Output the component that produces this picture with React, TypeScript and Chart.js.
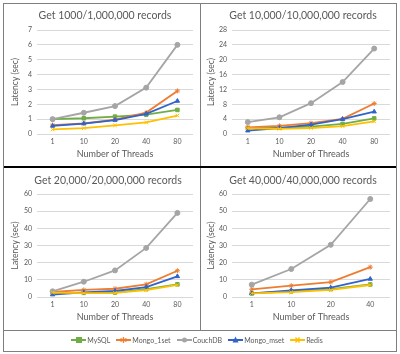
import React, { useEffect, useRef } from "react";
import { Chart, registerables } from "chart.js";
Chart.register(...registerables);

const seriesNames = ["MySQL", "Mongo_1set", "CouchDB", "Mongo_mset", "Redis"];
const seriesColors = ["#70AD47", "#ED7D31", "#A5A5A5", "#3163C8", "#FFC000"];
const seriesMarkers = ["rect", "star", "circle", "triangle", "crossRot"];

const threads5 = ["1", "10", "20", "40", "80"];
const threads4 = ["1", "10", "20", "40"];

// Get 1000/1,000,000
const p1MySQL = [1.0, 1.06, 1.17, 1.3, 1.62];
const p1Mongo1 = [0.6, 0.72, 0.96, 1.44, 2.9];
const p1Couch = [1.0, 1.43, 1.88, 3.12, 6.0];
const p1MongoM = [0.54, 0.7, 0.94, 1.36, 2.22];
const p1Redis = [0.31, 0.39, 0.58, 0.78, 1.24];

// Get 10,000/10,000,000
const p2MySQL = [1.6, 1.7, 2.0, 2.7, 4.2];
const p2Mongo1 = [1.8, 2.2, 2.9, 4.1, 8.2];
const p2Couch = [3.2, 4.5, 8.3, 14.0, 23.0];
const p2MongoM = [0.9, 1.6, 2.5, 4.0, 6.0];
const p2Redis = [1.5, 1.4, 1.6, 2.1, 3.4];

// Get 20,000/20,000,000
const p3MySQL = [2.5, 2.4, 2.6, 4.6, 7.4];
const p3Mongo1 = [2.9, 4.1, 4.8, 7.4, 15.3];
const p3Couch = [3.3, 8.9, 15.5, 28.6, 49.0];
const p3MongoM = [1.4, 2.7, 3.5, 5.8, 12.0];
const p3Redis = [2.5, 2.3, 2.4, 4.0, 7.0];

// Get 40,000/40,000,000
const p4MySQL = [2.1, 3.3, 4.6, 7.3];
const p4Mongo1 = [4.5, 6.6, 8.7, 17.4];
const p4Couch = [7.2, 16.3, 30.4, 57.1];
const p4MongoM = [2.1, 3.9, 5.4, 10.5];
const p4Redis = [2.1, 2.8, 4.1, 7.0];

const yMax1 = 7, yStep1 = 1;
const yMax2 = 28, yStep2 = 4;
const yMax3 = 60, yStep3 = 10;
const yMax4 = 60, yStep4 = 10;

const xAxisTitle = "Number of Threads";
const yAxisTitle = "Latency (sec)";

const TEXT = "#595959";
const FONT = "Lato, 'Open Sans', sans-serif";

type Box = { x: number; y: number; w: number; h: number };
type PanelProps = {
  title: string;
  labels: string[];
  series: number[][];
  yMax: number;
  yStep: number;
  canvas: Box;
  area: { l: number; t: number; r: number; b: number };
  titleX: number;
  titleY: number;
  yTitleX: number;
  xTitleY: number;
};

function Panel(props: PanelProps) {
  const ref = useRef<HTMLCanvasElement | null>(null);
  useEffect(() => {
    const { canvas, area } = props;
    const L = area.l - canvas.x;
    const T = area.t - canvas.y;
    const R = area.r - canvas.x;
    const B = area.b - canvas.y;
    const textPlugin = {
      id: "panelText",
      afterDraw(chart: any) {
        const ctx = chart.ctx as CanvasRenderingContext2D;
        const ca = chart.chartArea;
        ctx.save();
        ctx.fillStyle = TEXT;
        ctx.textAlign = "center";
        ctx.textBaseline = "middle";
        ctx.font = `10.5px ${FONT}`;
        ctx.fillText(props.title, props.titleX - canvas.x, props.titleY - canvas.y);
        ctx.font = `9px ${FONT}`;
        ctx.fillText(xAxisTitle, (ca.left + ca.right) / 2, props.xTitleY - canvas.y);
        ctx.translate(props.yTitleX - canvas.x, (ca.top + ca.bottom) / 2);
        ctx.rotate(-Math.PI / 2);
        ctx.font = `8.5px ${FONT}`;
        ctx.fillText(yAxisTitle, 0, 0);
        ctx.restore();
      },
    };
    const chart = new Chart(ref.current!, {
      type: "line",
      data: {
        labels: props.labels,
        datasets: props.series.map((d, i) => ({
          label: seriesNames[i],
          data: d,
          borderColor: seriesColors[i],
          backgroundColor: seriesColors[i],
          pointBorderColor: seriesColors[i],
          pointBackgroundColor: seriesColors[i],
          pointStyle: seriesMarkers[i] as any,
          pointRadius: 2.5,
          pointBorderWidth: 1,
          borderWidth: 1.8,
          tension: 0,
          fill: false,
          order: 4 - i,
        })),
      },
      options: {
        responsive: false,
        animation: false,
        layout: { padding: { left: 0, right: canvas.w - R, top: T, bottom: 0 } },
        plugins: {
          legend: { display: false },
          tooltip: { enabled: false },
          title: { display: false },
        },
        scales: {
          x: {
            type: "category",
            offset: true,
            grid: { display: false, drawTicks: false },
            border: { display: false },
            ticks: { color: TEXT, font: { family: FONT, size: 7 }, padding: 4, maxRotation: 0 },
            afterFit: (axis: any) => {
              axis.height = canvas.h - B;
            },
          },
          y: {
            min: 0,
            max: props.yMax,
            grid: { color: "#D9D9D9", lineWidth: 1, drawTicks: false },
            border: { display: false },
            ticks: { stepSize: props.yStep, color: TEXT, font: { family: FONT, size: 7 }, padding: 5 },
            afterFit: (axis: any) => {
              axis.width = L;
            },
          },
        },
      } as any,
      plugins: [textPlugin as any],
    });
    return () => chart.destroy();
  }, []);
  const c = props.canvas;
  return (
    <canvas
      ref={ref}
      width={c.w}
      height={c.h}
      style={{ position: "absolute", left: c.x, top: c.y, width: c.w, height: c.h }}
    />
  );
}

function LegendItem({ i }: { i: number }) {
  const color = seriesColors[i];
  const m = seriesMarkers[i];
  let marker: React.ReactNode = null;
  if (m === "rect") marker = <rect x={5} y={1} width={6} height={6} fill={color} />;
  else if (m === "circle") marker = <circle cx={7.5} cy={4} r={2.5} fill={color} />;
  else if (m === "triangle") marker = <polygon points="7.5,0.5 10.5,6.5 4.5,6.5" fill={color} />;
  else if (m === "star")
    marker = (
      <g stroke={color} strokeWidth={1.3}>
        <line x1={7.5} y1={1} x2={7.5} y2={7} />
        <line x1={4.5} y1={2.5} x2={10.5} y2={5.5} />
        <line x1={4.5} y1={5.5} x2={10.5} y2={2.5} />
      </g>
    );
  else
    marker = (
      <g stroke={color} strokeWidth={1.3}>
        <line x1={5.5} y1={1.5} x2={9.5} y2={6.5} />
        <line x1={5.5} y1={6.5} x2={9.5} y2={1.5} />
      </g>
    );
  return (
    <span style={{ display: "inline-flex", alignItems: "center", marginRight: 6 }}>
      <svg width={15} height={8} style={{ display: "block" }}>
        <line x1={0} y1={4} x2={15} y2={4} stroke={color} strokeWidth={2} />
        {marker}
      </svg>
      <span style={{ marginLeft: 1 }}>{seriesNames[i]}</span>
    </span>
  );
}

export default function App() {
  const line = "#7F7F7F";
  return (
    <div style={{ position: "fixed", left: 0, top: 0, width: 400, height: 354, background: "#fff", overflow: "hidden" }}>
      <Panel
        title="Get 1000/1,000,000 records"
        labels={threads5}
        series={[p1MySQL, p1Mongo1, p1Couch, p1MongoM, p1Redis]}
        yMax={yMax1}
        yStep={yStep1}
        canvas={{ x: 4, y: 4, w: 196, h: 162 }}
        area={{ l: 37, t: 30, r: 193, b: 134 }}
        titleX={105}
        titleY={16}
        yTitleX={15}
        xTitleY={154}
      />
      <Panel
        title="Get 10,000/10,000,000 records"
        labels={threads5}
        series={[p2MySQL, p2Mongo1, p2Couch, p2MongoM, p2Redis]}
        yMax={yMax2}
        yStep={yStep2}
        canvas={{ x: 201, y: 4, w: 194, h: 162 }}
        area={{ l: 232, t: 30, r: 390, b: 134 }}
        titleX={303}
        titleY={16}
        yTitleX={211}
        xTitleY={154}
      />
      <Panel
        title="Get 20,000/20,000,000 records"
        labels={threads5}
        series={[p3MySQL, p3Mongo1, p3Couch, p3MongoM, p3Redis]}
        yMax={yMax3}
        yStep={yStep3}
        canvas={{ x: 4, y: 168, w: 196, h: 162 }}
        area={{ l: 37, t: 194, r: 193, b: 297 }}
        titleX={108}
        titleY={181}
        yTitleX={15}
        xTitleY={317}
      />
      <Panel
        title="Get 40,000/40,000,000 records"
        labels={threads4}
        series={[p4MySQL, p4Mongo1, p4Couch, p4MongoM, p4Redis]}
        yMax={yMax4}
        yStep={yStep4}
        canvas={{ x: 201, y: 168, w: 194, h: 162 }}
        area={{ l: 232, t: 194, r: 390, b: 297 }}
        titleX={303}
        titleY={181}
        yTitleX={211}
        xTitleY={317}
      />
      {/* frame */}
      <div style={{ position: "absolute", left: 3, top: 3, width: 392, height: 347, border: `1px solid ${line}` }} />
      <div style={{ position: "absolute", left: 200, top: 4, width: 1, height: 326, background: line }} />
      <div style={{ position: "absolute", left: 4, top: 166, width: 392, height: 2, background: "#000" }} />
      <div style={{ position: "absolute", left: 4, top: 330, width: 392, height: 1, background: line }} />
      <div
        style={{
          position: "absolute",
          left: 4,
          top: 334,
          width: 392,
          height: 12,
          display: "flex",
          justifyContent: "center",
          alignItems: "center",
          fontFamily: FONT,
          fontSize: 7,
          color: TEXT,
          whiteSpace: "nowrap",
        }}
      >
        {seriesNames.map((_, i) => (
          <LegendItem key={i} i={i} />
        ))}
      </div>
    </div>
  );
}
